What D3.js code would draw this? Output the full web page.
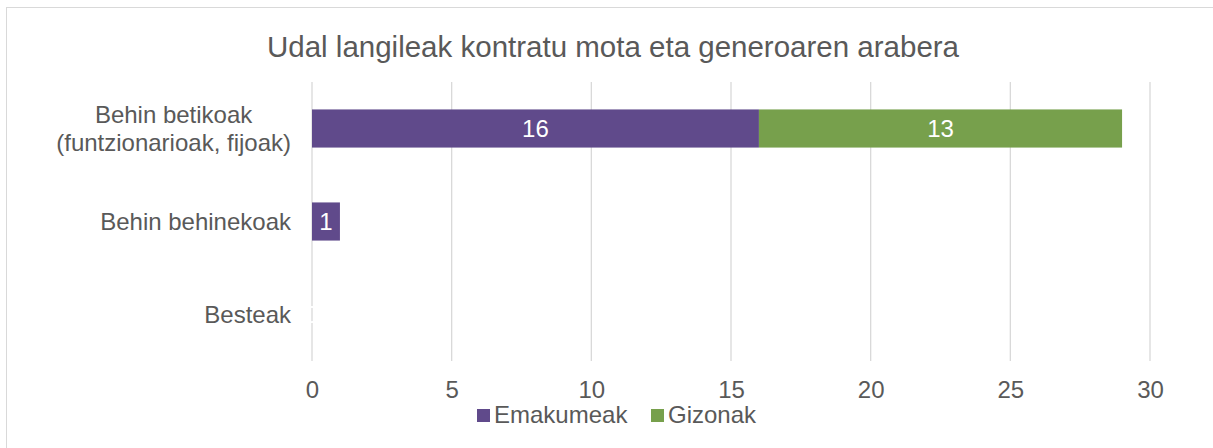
<!DOCTYPE html>
<html lang="eu">
<head>
    <meta charset="UTF-8">
    <title>Udal langileak</title>
    <script src="https://d3js.org/d3.v7.min.js"></script>
    <style>
        body { margin: 0; background: #fff; }
        svg text { font-family: "Liberation Sans", Arial, sans-serif; }
    </style>
</head>
<body>
    <div id="chart"></div>
    <script>
        // Data
        const categories = [
            ["Behin betikoak", "(funtzionarioak, fijoak)"],
            ["Behin behinekoak"],
            ["Besteak"]
        ];
        const seriesNames = ["Emakumeak", "Gizonak"];
        const emakumeak = [16, 1, 0];
        const gizonak = [13, 0, 0];
        const xTicks = [0, 5, 10, 15, 20, 25, 30];
        const colors = ["#604a8b", "#77a04c"];

        const width = 1213, height = 448;
        const margin = { top: 82, right: 63, bottom: 87, left: 312 };
        const textColor = "#595959";

        const svg = d3.select("#chart").append("svg")
            .attr("width", width)
            .attr("height", height);

        // Outer chart border (runs off the right and bottom edges)
        svg.append("rect")
            .attr("x", 6.5).attr("y", 7.5)
            .attr("width", width + 20).attr("height", height + 20)
            .attr("fill", "none")
            .attr("stroke", "#d9d9d9")
            .attr("stroke-width", 1);

        // Title
        svg.append("text")
            .attr("x", 613).attr("y", 57)
            .attr("text-anchor", "middle")
            .attr("fill", textColor)
            .attr("font-size", "29.5px")
            .text("Udal langileak kontratu mota eta generoaren arabera");

        const x = d3.scaleLinear()
            .domain([0, 30])
            .range([margin.left, width - margin.right]);

        const y = d3.scaleBand()
            .domain(d3.range(categories.length))
            .range([margin.top, height - margin.bottom])
            .paddingInner(0.59)
            .paddingOuter(0.295);

        // Gridlines
        svg.append("g")
            .selectAll("line")
            .data(xTicks)
            .join("line")
            .attr("x1", d => x(d)).attr("x2", d => x(d))
            .attr("y1", margin.top).attr("y2", height - margin.bottom)
            .attr("stroke", "#d9d9d9")
            .attr("stroke-width", 1.3);

        // X axis labels
        const xAxis = svg.append("g")
            .attr("transform", `translate(0,${height - margin.bottom})`)
            .call(d3.axisBottom(x).tickValues(xTicks).tickSize(0).tickPadding(0));
        xAxis.select(".domain").remove();
        xAxis.selectAll("text")
            .attr("y", 37)
            .attr("dy", null)
            .attr("fill", textColor)
            .attr("font-size", "24px");

        // Stacked bars
        const rows = categories.map((c, i) => ({ i, vals: [emakumeak[i], gizonak[i]] }));
        const segs = [];
        rows.forEach(r => {
            let acc = 0;
            r.vals.forEach((v, s) => {
                segs.push({ i: r.i, s, x0: acc, x1: acc + v, v });
                acc += v;
            });
        });

        svg.append("g")
            .selectAll("rect")
            .data(segs.filter(d => d.v > 0))
            .join("rect")
            .attr("x", d => x(d.x0))
            .attr("y", d => y(d.i))
            .attr("width", d => x(d.x1) - x(d.x0))
            .attr("height", y.bandwidth())
            .attr("fill", d => colors[d.s]);

        // Data labels (white; zero shown only for the first series)
        svg.append("g")
            .selectAll("text")
            .data(segs.filter(d => d.v > 0 || d.s === 0))
            .join("text")
            .attr("x", d => (x(d.x0) + x(d.x1)) / 2)
            .attr("y", d => y(d.i) + y.bandwidth() / 2)
            .attr("dy", "0.36em")
            .attr("text-anchor", "middle")
            .attr("fill", "#ffffff")
            .attr("font-size", "24px")
            .text(d => d.v);

        // Category labels: centred lines, block right-aligned to the axis
        const catG = svg.append("g");
        categories.forEach((lines, i) => {
            const t = catG.append("text")
                .attr("text-anchor", "middle")
                .attr("fill", textColor)
                .attr("font-size", "24px");
            const cy = y(i) + y.bandwidth() / 2 - (lines.length - 1) * 14;
            const spans = t.selectAll("tspan")
                .data(lines)
                .join("tspan")
                .attr("x", 0)
                .attr("y", (d, j) => cy + j * 28)
                .attr("dy", "0.36em")
                .text(d => d);
            const w = d3.max(spans.nodes(), n => n.getComputedTextLength());
            spans.attr("x", 291 - w / 2);
        });

        // Legend
        const legendX = [477, 651];
        const legend = svg.append("g")
            .selectAll("g")
            .data(seriesNames)
            .join("g")
            .attr("transform", (d, i) => `translate(${legendX[i]},0)`);
        legend.append("rect")
            .attr("x", 0).attr("y", 409)
            .attr("width", 13).attr("height", 13)
            .attr("fill", (d, i) => colors[i]);
        legend.append("text")
            .attr("x", 17).attr("y", 423)
            .attr("fill", textColor)
            .attr("font-size", "24px")
            .text(d => d);
    </script>
</body>
</html>
